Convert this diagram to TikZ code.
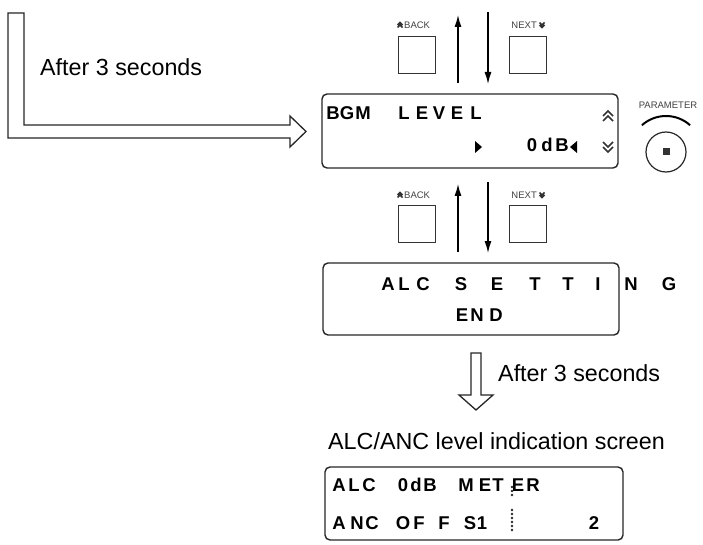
\documentclass[tikz,border=0pt]{standalone}
\usepackage{fontspec}
\setmainfont{Liberation Sans}
\usetikzlibrary{positioning}
\usetikzlibrary{arrows.meta}
\usetikzlibrary{calc}

\tikzset{
  lcdbox/.style={draw=black!85, line width=1.4pt, rounded corners=5pt,
    minimum width=296pt, minimum height=74pt, inner sep=0pt},
  lcd/.style={font=\fontsize{18.5}{18.5}\selectfont\bfseries, anchor=base, inner sep=0pt},
  btn/.style={draw=black!80, line width=0.9pt, minimum size=37pt, inner sep=0pt},
  btnlabel/.style={font=\fontsize{9.5}{9.5}\selectfont, inner sep=0pt, text=black!75},
  note/.style={font=\fontsize{23.3}{23.3}\selectfont, anchor=base west, inner sep=0pt},
  keyarrow/.style={line width=1.3pt, -{Latex[length=12pt,width=7pt]}},
  hollow/.style={draw=black!85, line width=1.3pt, fill=white},
  chev/.style={line width=1.6pt, draw=black!80},
  dotmark/.style={circle, fill=black!85, minimum size=2.6pt, inner sep=0pt},
  dchevup/.pic={\draw[chev] (-5,0)--(0,-5)--(5,0) (-5,5)--(0,0)--(5,5);},
  dchevdown/.pic={\draw[chev] (-5,-5)--(0,0)--(5,-5) (-5,0)--(0,5)--(5,0);}
}

\begin{document}
\begin{tikzpicture}[x=1pt, y=-1pt]
\useasboundingbox (0,0) rectangle (703,545);

% first transition
\draw[hollow] (8,13) -- (8,138) -- (290,138) -- (290,147) -- (306,131.5)
  -- (290,116) -- (290,125) -- (24,125) -- (24,13) -- cycle;
\node[note] (wait1) at (40,76) {After 3 seconds};

% keys above BGM LEVEL
\node[btn] (back1) at (416.5,54.5) {};
\node[btn] (next1) at (528,54.5) {};
\node[btnlabel, anchor=west] (backlbl1) at (404,25) {BACK};
\pic[scale=.5] at (400,25) {dchevup};
\node[btnlabel, anchor=east] (nextlbl1) at (537,25) {NEXT};
\pic[scale=.5] at (542,25) {dchevdown};

\coordinate (up1s) at (458,83);
\coordinate (up1e) at (458,15);
\coordinate (dn1s) at (488,12);
\coordinate (dn1e) at (488,84);
\draw[keyarrow] (up1s) -- (up1e);
\draw[keyarrow] (dn1s) -- (dn1e);

% BGM LEVEL display
\node[lcdbox] (bgm) at (470,131) {};
\foreach \x/\c in {333/B,347/G,363/M,404/L,422/E,439/V,457/E,476/L}
  \node[lcd] (bgmA\x) at (\x,120) {\c};
\foreach \x/\c in {532/0,547/d,562/B}
  \node[lcd] (bgmB\x) at (\x,152) {\c};
\fill (475,141) -- (482,147) -- (475,153) -- cycle;
\fill (577,141) -- (570,147) -- (577,153) -- cycle;
\pic at (608,116) {dchevup};
\pic at (608,147) {dchevdown};

% parameter knob
\node[font=\fontsize{9.5}{9.5}\selectfont, text=black!75] (paramlbl) at (668,105) {PARAMETER};
\node[circle, draw=black!85, line width=1.2pt, minimum size=40pt, inner sep=0pt] (knob) at (666,152) {};
\node[fill=black!80, minimum size=7pt, inner sep=0pt] (knobmark) at (knob) {};
\draw[line width=2pt] ($(knob)+(228:36)$) arc (228:312:36);

% keys between the displays
\node[btn] (back2) at (416.5,223.5) {};
\node[btn] (next2) at (528,223.5) {};
\node[btnlabel, anchor=west] (backlbl2) at (404,195) {BACK};
\pic[scale=.5] at (400,195) {dchevup};
\node[btnlabel, anchor=east] (nextlbl2) at (537,195) {NEXT};
\pic[scale=.5] at (542,195) {dchevdown};

\coordinate (up2s) at (458,252);
\coordinate (up2e) at (458,184);
\coordinate (dn2s) at (488,182);
\coordinate (dn2e) at (488,253);
\draw[keyarrow] (up2s) -- (up2e);
\draw[keyarrow] (dn2s) -- (dn2e);

% ALC SETTING END display
\node[lcdbox, minimum height=72pt] (alcend) at (471,299) {};
\foreach \x/\c in {388/A,404/L,423/C,461/S,497/E,535/T,568/T,598/I,631/N,669/G}
  \node[lcd] (alcA\x) at (\x,290) {\c};
\foreach \x/\c in {462/E,477/N,496/D}
  \node[lcd] (alcB\x) at (\x,321) {\c};

% second transition
\draw[hollow] (471,353) -- (471,395) -- (459,395) -- (476,410) -- (493,395)
  -- (481,395) -- (481,353) -- cycle;
\node[note] (wait2) at (498,381) {After 3 seconds};

% level indication screen
\node[note] (screenlbl) at (328,449) {ALC/ANC level indication screen};
\node[lcdbox, minimum width=298pt, minimum height=73pt] (meter) at (474,503.5) {};
\foreach \x/\c in {339/A,354/L,369/C,403/0,416/d,430/B,466/M,485/E,498/T,518/E,533/R}
  \node[lcd] (metA\x) at (\x,491) {\c};
\foreach \x/\c in {339/A,357/N,372/C,403/O,419/F,444/F,470/S,482/1,594/2}
  \node[lcd] (metB\x) at (\x,529) {\c};
\foreach \y in {487,491,495,510,514,518,522,526,530}
  \node[dotmark] (dot\y) at (512,\y) {};
\end{tikzpicture}
\end{document}
